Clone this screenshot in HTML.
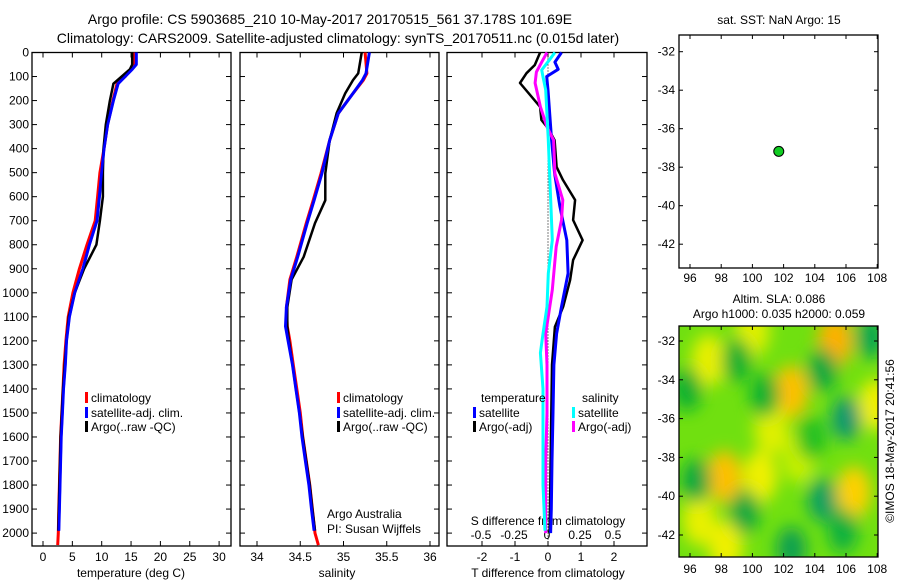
<!DOCTYPE html>
<html><head><meta charset="utf-8"><style>
body{margin:0;background:#fff;}
svg{display:block;font-family:"Liberation Sans",sans-serif;}
</style></head><body>
<svg id="chart" width="900" height="580" viewBox="0 0 900 580" xmlns="http://www.w3.org/2000/svg">
<defs><filter id="blur" x="-50%" y="-50%" width="200%" height="200%"><feGaussianBlur stdDeviation="8"/></filter>
<clipPath id="mapclip"><rect x="679" y="326" width="199" height="231"/></clipPath></defs>
<text x="330" y="24" font-size="14" text-anchor="middle">Argo profile: CS 5903685_210 10-May-2017 20170515_561 37.178S 101.69E</text>
<text x="338" y="43" font-size="14" text-anchor="middle">Climatology: CARS2009. Satellite-adjusted climatology: synTS_20170511.nc (0.015d later)</text>
<text x="779" y="24" font-size="12" text-anchor="middle">sat. SST: NaN Argo: 15</text>
<text x="779" y="303" font-size="12" text-anchor="middle">Altim. SLA: 0.086</text>
<text x="779" y="318" font-size="12" text-anchor="middle">Argo h1000: 0.035 h2000: 0.059</text>
<text transform="translate(894,441) rotate(-90)" font-size="12" text-anchor="middle">©IMOS 18-May-2017 20:41:56</text>
<g id="g"></g>
</svg>
<script>
// ---- data ----
const depthT = [0,50,70,100,130,200,300,400,500,600,700,800,900,1000,1100,1200,1300,1400,1500,1600,1700,1800,1900,2000,2050];
const tClim = [15.6,15.6,15.0,14.0,12.6,11.9,11.0,10.4,9.7,9.3,8.9,7.5,6.2,5.1,4.3,3.9,3.6,3.4,3.2,3.0,2.9,2.8,2.7,2.6,2.5];
const depthTSat = [0,50,70,100,130,200,300,400,500,600,700,800,900,1000,1100,1200,1300,1400,1500,1600,1700,1800,1900,1990];
const tSat = [15.9,15.9,15.2,14.0,12.8,12.0,11.0,10.4,10.0,9.6,9.2,7.9,6.8,5.4,4.5,4.0,3.8,3.5,3.3,3.1,3.0,2.9,2.8,2.7];
const tArgo = [15.2,15.2,14.8,13.4,12.0,11.4,10.7,10.3,10.2,10.2,9.7,9.1,7.0,5.4,4.4,4.0,3.7,3.4,3.2,3.0,2.9,2.8,2.7,2.6];
const depthS = [0,87,115,170,253,365,503,615,710,850,945,1060,1140,1200,1300,1400,1500,1600,1700,1800,1900,2000,2050];
const sClim = [35.25,35.27,35.23,35.11,34.94,34.84,34.74,34.65,34.57,34.46,34.38,34.34,34.35,34.38,34.42,34.46,34.50,34.53,34.57,34.61,34.64,34.67,34.71];
const depthS2 = [0,87,115,170,253,365,503,615,710,850,945,1060,1140,1200,1300,1400,1500,1600,1700,1800,1900,1990];
const sSat = [35.30,35.26,35.22,35.11,34.94,34.84,34.75,34.66,34.58,34.47,34.39,34.34,34.33,34.36,34.41,34.45,34.49,34.52,34.56,34.60,34.63,34.66];
const sArgo = [35.21,35.17,35.11,35.02,34.92,34.84,34.79,34.79,34.67,34.54,34.40,34.35,34.35,34.37,34.41,34.45,34.49,34.53,34.57,34.61,34.64,34.67];
const depthDA = [0,52,86,127,226,281,315,365,476,530,614,697,781,864,947,1058,1142,1300,1500,1700,1900,2000];
const dTArgo = [-0.24,-0.4,-0.65,-0.85,-0.24,-0.2,0,0.2,0.26,0.45,0.82,0.76,1.05,0.76,0.67,0.46,0.21,0.12,0.1,0.08,0.06,0.05];
const depthDS = [0,40,70,100,156,365,503,641,781,919,1058,1170,1300,1500,1700,1900,2000];
const dTSat = [0.41,0.21,0.31,-0.04,0,0.11,0.2,0.36,0.57,0.61,0.41,0.26,0.18,0.15,0.12,0.1,0.08];
const depthDM = [0,40,81,127,226,310,365,503,614,697,808,988,1170,1300,1500,1700,1900,2000];
const dSArgo = [0,-0.04,-0.08,-0.09,-0.05,0,0.05,0.06,0.12,0.11,0.07,0.04,-0.01,0,0,-0.01,-0.01,-0.01];
const depthDC = [0,30,73,101,156,365,781,919,1058,1170,1250,1400,1600,1800,1990];
const dSSat = [0.06,0.02,-0.04,-0.03,-0.01,0.01,0.04,0.01,0,-0.03,-0.05,-0.03,-0.03,-0.03,-0.015];
const depthTicks = [0,100,200,300,400,500,600,700,800,900,1000,1100,1200,1300,1400,1500,1600,1700,1800,1900,2000];
const tTicks = [0,5,10,15,20,25,30];
const sTicks = [34,34.5,35,35.5,36];
const sTickLabels = ["34","34.5","35","35.5","36"];
const dTTicks = [-2,-1,0,1,2];
const dSTicks = [-0.5,-0.25,0,0.25,0.5];
const lonTicks = [96,98,100,102,104,106,108];
const latTicks = [-32,-34,-36,-38,-40,-42];
const argoLon = [101.69];
const argoLat = [-37.178];
const warmBlobs = [[105.3,-32,'#ffb000'],[102.5,-34.6,'#ffc000'],[98.2,-39,'#ffc000'],[106.5,-39.8,'#ffd000'],[100.5,-39,'#f0f000'],[97.2,-33,'#e8f000'],[101.2,-36.5,'#e0f000'],[107.9,-35.3,'#f0f000'],[96.6,-41.2,'#e8f000'],[98.3,-42.6,'#f0f000'],[103,-38,'#c8f000'],[100,-31.5,'#e0f000']];
const coolBlobs = [[104.5,-33.5,'#10a840'],[106,-36,'#109870'],[104.5,-40.2,'#10a060'],[99.5,-40.8,'#10a840'],[96.4,-39.2,'#10a840'],[99,-33,'#10b030'],[102.5,-42.7,'#10a050'],[105.8,-41.8,'#10b040'],[95.8,-34.5,'#10b030'],[107.6,-31.8,'#10a850'],[100.8,-34.8,'#10b030'],[103.8,-37,'#20c020']];

// ---- axis functions ----
const NS='http://www.w3.org/2000/svg';
const G=document.getElementById('g');
function el(tag,attrs,parent){const e=document.createElementNS(NS,tag);for(const k in attrs)e.setAttribute(k,attrs[k]);(parent||G).appendChild(e);return e;}
const yD=d=>52.5+d*0.2403;
const xT=t=>43+t*5.87;
const xS=s=>257+(s-34)*86.5;
const xDT=t=>548+t*33;
const xDS=s=>547+s*132;
const xLon=l=>690+(l-96)*15.6;
const yLatTop=l=>51.7+(-32-l)*19.25;
const yLatBot=l=>341+(-32-l)*19.4;

function line(xs,ys,color,w,name){
  let d='';for(let i=0;i<xs.length;i++){d+=(i?'L':'M')+xs[i].toFixed(1)+' '+ys[i].toFixed(1);}
  const p=el('path',{d:d,fill:'none',stroke:color,'stroke-width':w,'stroke-linejoin':'round'});
  
  
}
function frame(x0,x1,y0,y1,name){
  const r=el('rect',{x:x0,y:y0,width:x1-x0,height:y1-y0,fill:'none',stroke:'#000','stroke-width':1.3});
  
  
}
function text(x,y,s,anchor,name,size){
  const t=el('text',{x:x,y:y,'font-size':size||12,'text-anchor':anchor||'start'});t.textContent=s;
  
  
}
function depthTicksFor(x0,x1,labels){
  depthTicks.forEach(d=>{const y=yD(d);
    el('line',{x1:x0,x2:x0+5,y1:y,y2:y,stroke:'#000'});el('line',{x1:x1-5,x2:x1,y1:y,y2:y,stroke:'#000'});
    if(labels)text(x0-3,y+4,String(d),'end','depth-tick-label');});
}
function xTicksFor(vals,fx,y0,y1,labels,labY){
  vals.forEach((v,i)=>{const x=fx(v);
    el('line',{x1:x,x2:x,y1:y1,y2:y1-5,stroke:'#000'});el('line',{x1:x,x2:x,y1:y0,y2:y0+5,stroke:'#000'});
    if(labels)text(x,labY,labels[i],'middle','x-tick-label');});
}
const Y0=52.5,Y1=546;
// Panel 1 temperature
frame(32,231,Y0,Y1,'temperature-panel');
depthTicksFor(32,231,true);
xTicksFor(tTicks,xT,Y0,Y1,tTicks.map(String),561);
text(131,577,'temperature (deg C)','middle','temperature-axis-title');
line(tClim.map(xT),depthT.map(yD),'#ff0000',3,'temp-climatology-line');
line(tSat.map(xT),depthTSat.map(yD),'#0000ff',3,'temp-satellite-line');
line(tArgo.map(xT),depthTSat.map(yD),'#000000',2.5,'temp-argo-line');
line(tSat.map(xT),depthTSat.map(yD),'#0000ff',2.5,'temp-satellite-line-top');
// Panel 2 salinity
frame(240,439,Y0,Y1,'salinity-panel');
depthTicksFor(240,439,false);
xTicksFor(sTicks,xS,Y0,Y1,sTickLabels,561);
text(337,577,'salinity','middle','salinity-axis-title');
line(sClim.map(xS),depthS.map(yD),'#ff0000',3,'sal-climatology-line');
line(sArgo.map(xS),depthS2.map(yD),'#000000',2.5,'sal-argo-line');
line(sSat.map(xS),depthS2.map(yD),'#0000ff',3,'sal-satellite-line');
text(327,518,'Argo Australia','start','institution-label');
text(327,533,'PI: Susan Wijffels','start','pi-label');
// Panel 3 differences
frame(447,647,Y0,Y1,'difference-panel');
depthTicksFor(447,647,false);
el('line',{x1:548,x2:548,y1:Y0,y2:Y1,stroke:'#000','stroke-dasharray':'1,2'});
xTicksFor(dTTicks,xDT,Y0,Y1,dTTicks.map(String),561);
dSTicks.forEach(v=>text(xDS(v),539,String(v),'middle','s-diff-tick-label'));
text(548,525,'S difference from climatology','middle','s-diff-axis-title');
text(548,577,'T difference from climatology','middle','t-diff-axis-title');
line(dTArgo.map(xDT),depthDA.map(yD),'#000000',2.5,'tdiff-argo-line');
line(dTSat.map(xDT),depthDS.map(yD),'#0000ff',3,'tdiff-satellite-line');
line(dSArgo.map(xDS),depthDM.map(yD),'#ff00ff',3,'sdiff-argo-line');
line(dSSat.map(xDS),depthDC.map(yD),'#00ffff',3,'sdiff-satellite-line');
// Legends
function legItem(x,y,color,label,name){
  const r=el('rect',{x:x,y:y-10,width:3,height:11,fill:color});
  
  
  text(x+6,y,label,'start',name);
}
[[85,402],[337,402]].forEach(p=>{
  legItem(p[0],p[1],'#ff0000','climatology','legend-climatology');
  legItem(p[0],p[1]+15,'#0000ff','satellite-adj. clim.','legend-satellite');
  legItem(p[0],p[1]+29,'#000000','Argo(..raw -QC)','legend-argo');
});
text(481,402,'temperature','start','legend-temperature-heading');
text(582,402,'salinity','start','legend-salinity-heading');
legItem(473,417,'#0000ff','satellite','legend-t-satellite');
legItem(473,431,'#000000','Argo(-adj)','legend-t-argo');
legItem(572,417,'#00ffff','satellite','legend-s-satellite');
legItem(572,431,'#ff00ff','Argo(-adj)','legend-s-argo');
// Top map
frame(679,878,35,268,'sst-map-panel');
lonTicks.forEach(v=>{const x=xLon(v);el('line',{x1:x,x2:x,y1:35,y2:39,stroke:'#000'});el('line',{x1:x,x2:x,y1:268,y2:264,stroke:'#000'});text(x,282,String(v),'middle','sst-lon-label');});
latTicks.forEach(v=>{const y=yLatTop(v);el('line',{x1:679,x2:683,y1:y,y2:y,stroke:'#000'});el('line',{x1:874,x2:878,y1:y,y2:y,stroke:'#000'});text(675,y+4,String(v),'end','sst-lat-label');});
argoLon.forEach((lo,i)=>{const c=el('circle',{cx:xLon(lo),cy:yLatTop(argoLat[i]),r:5,fill:'#11cc22',stroke:'#000','stroke-width':1});
  
  });
// Bottom map heatmap
const hm=el('g',{'clip-path':'url(#mapclip)'});


el('rect',{x:679,y:326,width:199,height:231,fill:'#70e010'},hm);
const bl=el('g',{filter:'url(#blur)'},hm);
warmBlobs.forEach(b=>el('ellipse',{cx:xLon(b[0]),cy:yLatBot(b[1]),rx:17,ry:26,fill:b[2]},bl));
coolBlobs.forEach(b=>el('ellipse',{cx:xLon(b[0]),cy:yLatBot(b[1]),rx:15,ry:22,fill:b[2]},bl));
frame(679,878,326,557,'sla-map-panel');
lonTicks.forEach(v=>{const x=xLon(v);el('line',{x1:x,x2:x,y1:326,y2:330,stroke:'#000'});el('line',{x1:x,x2:x,y1:557,y2:553,stroke:'#000'});text(x,573,String(v),'middle','sla-lon-label');});
latTicks.forEach(v=>{const y=yLatBot(v);el('line',{x1:679,x2:683,y1:y,y2:y,stroke:'#000'});el('line',{x1:874,x2:878,y1:y,y2:y,stroke:'#000'});text(675,y+4,String(v),'end','sla-lat-label');});
</script>
</body></html>
